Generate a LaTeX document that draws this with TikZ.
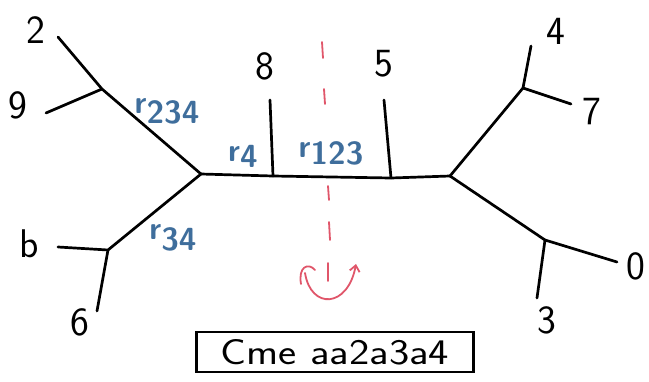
\documentclass[tikz,border=0pt]{standalone}
\usetikzlibrary{arrows.meta}
\definecolor{inkblue}{HTML}{3F6E9C}
\definecolor{inkred}{HTML}{E0566A}
\begin{document}
\begin{tikzpicture}[x=1pt,y=-1pt,
  branch/.style={line width=2.7pt,line cap=round,line join=round},
  leaflabel/.style={font=\sffamily\fontsize{40}{40}\selectfont,inner sep=0pt},
  lenlabel/.style={text=inkblue,font=\sffamily\bfseries\fontsize{32}{32}\selectfont,inner sep=0pt},
  cutmark/.style={inkred,line width=1.8pt,line cap=round}]
\useasboundingbox (0,0) rectangle (649,381);

% internal nodes of the tree
\coordinate (L) at (201,174);
\coordinate (R) at (450,176);
\coordinate (A) at (102,89);
\coordinate (B) at (108,250);
\coordinate (C) at (523,88);
\coordinate (D) at (545,240);
\coordinate (s8) at (273,176);
\coordinate (s5) at (391,178);

% leaf ends
\coordinate (e2) at (58,37);
\coordinate (e9) at (46,113);
\coordinate (eb) at (58,247);
\coordinate (e6) at (97,311);
\coordinate (e8) at (270,100);
\coordinate (e5) at (384,100);
\coordinate (e4) at (531,46);
\coordinate (e7) at (571,104);
\coordinate (e0) at (617,262);
\coordinate (e3) at (537,298);

% leaf labels
\node[leaflabel] (n2) at (36,30) {2};
\node[leaflabel] (n9) at (18,105) {9};
\node[leaflabel] (nb) at (29,244) {b};
\node[leaflabel] (n6) at (80,322) {6};
\node[leaflabel] (n8) at (265,66) {8};
\node[leaflabel] (n5) at (384,64) {5};
\node[leaflabel] (n4) at (556,31) {4};
\node[leaflabel] (n7) at (592,112) {7};
\node[leaflabel] (n0) at (636,266) {0};
\node[leaflabel] (n3) at (547,320) {3};

% branches
\draw[branch] (e2) -- (A) -- (L) -- (B) -- (eb);
\draw[branch] (e9) -- (A);
\draw[branch] (B) -- (e6);
\draw[branch] (L) -- (s8) -- (s5) -- (R);
\draw[branch] (e8) -- (s8);
\draw[branch] (e5) -- (s5);
\draw[branch] (R) -- (C) -- (e4);
\draw[branch] (C) -- (e7);
\draw[branch] (R) -- (D) -- (e0);
\draw[branch] (D) -- (e3);

% branch lengths
\node[lenlabel] (r234) at (167,111) {r\raisebox{-10pt}{234}};
\node[lenlabel] (r4) at (243,156) {r\raisebox{-6pt}{4}};
\node[lenlabel] (r123) at (331,153) {r\raisebox{-7pt}{123}};
\node[lenlabel] (r34) at (173,238) {r\raisebox{-11pt}{34}};

% cut through the central branch and rotation arrow
\draw[cutmark] (322,42) -- (323,58);
\draw[cutmark] (324,89) -- (325,104);
\draw[cutmark] (328,186) -- (329,200);
\draw[cutmark] (329,222) -- (330,240);
\draw[cutmark] (328,263) -- (328,281);
\coordinate (tl) at (301,284);
\coordinate (tr) at (356,264);
\draw[cutmark] (tl) .. controls (298,267) and (308,262) .. (315,270);
\draw[cutmark,-{Straight Barb[length=6pt,width=10pt]}] (305,273) .. controls (311,310) and (348,308) .. (tr);

% caption box
\node[draw,line width=2.2pt,minimum width=277pt,minimum height=40pt,
      font=\sffamily\fontsize{36}{36}\selectfont,inner sep=0pt] (cap) at (335,352)
      {\scalebox{1.2}[1]{Cme aa2a3a4}};
\end{tikzpicture}
\end{document}
